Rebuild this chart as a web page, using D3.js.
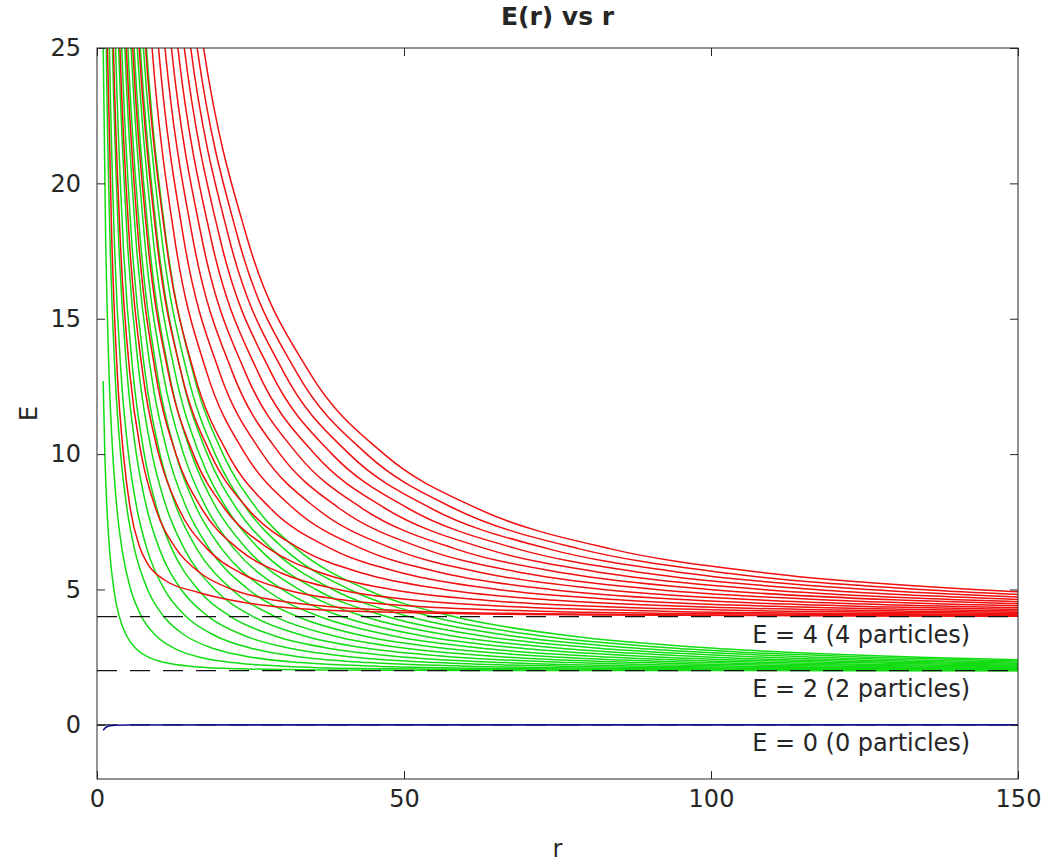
<!DOCTYPE html>
<html>
<head>
<meta charset="utf-8">
<script src="https://cdn.jsdelivr.net/npm/d3@7"></script>
<style>
  body { margin: 0; background: #fff; }
  text { font-family: "DejaVu Sans", "Liberation Sans", Arial, sans-serif; fill: #262626; }
</style>
</head>
<body>
<svg id="chart" width="1050" height="862"></svg>
<script>
// E(r) vs r — energy levels of 0, 2 and 4 particle states against box size r.
// Points: each curve is a list of [r, E] pairs.

const X_TICKS = [0, 50, 100, 150];
const Y_TICKS = [0, 5, 10, 15, 20, 25];

// 2-particle states (green), lowest first
const GREEN_CURVES = [
  [[1,12.7],[1.28,10],[1.62,8],[2.03,6.5],[2.74,5],[3.63,4],[4.79,3.3],[6.41,2.8],[8.38,2.5],[11.06,2.3],[15.93,2.15],[23.54,2.07],[36.14,2.03],[62.8,2.01],[150,2.002]],
  [[1.01,25],[1.41,18],[1.96,13],[2.57,10],[3.24,8],[4.06,6.5],[5.48,5],[7.26,4],[9.57,3.3],[12.83,2.8],[16.76,2.5],[22.12,2.3],[31.86,2.15],[47.08,2.07],[72.28,2.03],[125.5,2.01],[150,2.007]],
  [[1.26,30],[1.51,25],[2.11,18],[2.93,13],[3.85,10],[4.87,8],[6.10,6.5],[8.23,5],[10.88,4],[14.36,3.3],[19.24,2.8],[25.13,2.5],[33.18,2.3],[47.79,2.15],[70.62,2.07],[108.42,2.03],[150,2.016]],
  [[1.68,30],[2.02,25],[2.81,18],[3.91,13],[5.13,10],[6.49,8],[8.13,6.5],[10.97,5],[14.51,4],[19.15,3.3],[25.65,2.8],[33.51,2.5],[44.24,2.3],[63.72,2.15],[94.16,2.07],[144.56,2.03],[150,2.028]],
  [[2.10,30],[2.52,25],[3.51,18],[4.89,13],[6.41,10],[8.11,8],[10.16,6.5],[13.71,5],[18.14,4],[23.94,3.3],[32.07,2.8],[41.89,2.5],[55.30,2.3],[79.65,2.15],[117.70,2.07],[150,2.043]],
  [[2.52,30],[3.03,25],[4.22,18],[5.87,13],[7.70,10],[9.73,8],[12.19,6.5],[16.45,5],[21.77,4],[28.72,3.3],[38.48,2.8],[50.27,2.5],[66.36,2.3],[95.58,2.15],[141.24,2.07],[150,2.062]],
  [[2.94,30],[3.53,25],[4.92,18],[6.85,13],[8.98,10],[11.35,8],[14.22,6.5],[19.19,5],[25.40,4],[33.51,3.3],[44.89,2.8],[58.65,2.5],[77.42,2.3],[111.51,2.15],[150,2.084]],
  [[3.36,30],[4.03,25],[5.62,18],[7.83,13],[10.26,10],[12.98,8],[16.26,6.5],[21.94,5],[29.02,4],[38.30,3.3],[51.30,2.8],[67.02,2.5],[88.48,2.3],[127.44,2.15],[150,2.109]],
  [[3.78,30],[4.54,25],[6.32,18],[8.80,13],[11.54,10],[14.60,8],[18.29,6.5],[24.68,5],[32.65,4],[43.08,3.3],[57.72,2.8],[75.40,2.5],[99.54,2.3],[143.37,2.15],[150,2.137]],
  [[4.20,30],[5.04,25],[7.03,18],[9.78,13],[12.83,10],[16.22,8],[20.32,6.5],[27.42,5],[36.28,4],[47.87,3.3],[64.13,2.8],[83.78,2.5],[110.6,2.3],[150,2.168]],
  [[4.62,30],[5.55,25],[7.73,18],[10.76,13],[14.11,10],[17.84,8],[22.35,6.5],[30.16,5],[39.91,4],[52.66,3.3],[70.54,2.8],[92.16,2.5],[121.66,2.3],[150,2.202]],
  [[5.04,30],[6.05,25],[8.43,18],[11.74,13],[15.39,10],[19.46,8],[24.38,6.5],[32.90,5],[43.54,4],[57.44,3.3],[76.96,2.8],[100.54,2.5],[132.72,2.3],[150,2.239]],
  [[5.46,30],[6.56,25],[9.13,18],[12.72,13],[16.67,10],[21.09,8],[26.42,6.5],[35.65,5],[47.16,4],[62.23,3.3],[83.37,2.8],[108.91,2.5],[143.78,2.3],[150,2.277]],
  [[5.88,30],[7.06,25],[9.84,18],[13.69,13],[17.96,10],[22.71,8],[28.45,6.5],[38.39,5],[50.79,4],[67.02,3.3],[89.78,2.8],[117.29,2.5],[150,2.319]],
  [[6.30,30],[7.56,25],[10.54,18],[14.67,13],[19.24,10],[24.33,8],[30.48,6.5],[41.13,5],[54.42,4],[71.81,3.3],[96.20,2.8],[125.67,2.5],[150,2.362]],
  [[6.72,30],[8.07,25],[11.24,18],[15.65,13],[20.52,10],[25.95,8],[32.51,6.5],[43.87,5],[58.05,4],[76.59,3.3],[102.61,2.8],[134.05,2.5],[150,2.408]]
];

// 4-particle states (red), lowest first
const RED_CURVES = [
  [[1.35,30],[1.7,25],[2.4,18],[3.3,13],[4.3,10],[5.4,8],[6.9,6.6],[8.1,6.0],[11,5.35],[16.4,4.9],[24,4.52],[32.6,4.3],[50,4.15],[80,4.06],[150,4.012]],
  [[2.22,30],[2.68,25],[3.77,18],[5.34,13],[7.21,10],[9.54,8],[12.90,6.5],[16.87,5.6],[22.03,5],[29.09,4.6],[38.66,4.35],[51.60,4.2],[73.43,4.1],[104.17,4.05],[150,4.024]],
  [[3.09,30],[3.73,25],[5.24,18],[7.44,13],[10.04,10],[13.28,8],[17.95,6.5],[23.47,5.6],[30.66,5],[40.48,4.6],[53.80,4.35],[71.81,4.2],[102.19,4.1],[145.0,4.05],[150,4.047]],
  [[3.96,30],[4.78,25],[6.72,18],[9.53,13],[12.86,10],[17.02,8],[23.00,6.5],[30.08,5.6],[39.29,5],[51.87,4.6],[68.94,4.35],[92.02,4.2],[130.94,4.1],[150,4.076]],
  [[4.84,30],[5.82,25],[8.19,18],[11.62,13],[15.68,10],[20.75,8],[28.06,6.5],[36.68,5.6],[47.92,5],[63.26,4.6],[84.08,4.35],[112.23,4.2],[150,4.113]],
  [[5.71,30],[6.87,25],[9.67,18],[13.72,13],[18.51,10],[24.49,8],[33.11,6.5],[43.29,5.6],[56.55,5],[74.66,4.6],[99.23,4.35],[132.44,4.2],[150,4.157]],
  [[6.58,30],[7.92,25],[11.14,18],[15.81,13],[21.33,10],[28.23,8],[38.16,6.5],[49.89,5.6],[65.18,5],[86.05,4.6],[114.37,4.35],[150,4.207]],
  [[7.45,30],[8.97,25],[12.62,18],[17.90,13],[24.16,10],[31.96,8],[43.21,6.5],[56.50,5.6],[73.81,5],[97.44,4.6],[129.51,4.35],[150,4.264]],
  [[8.32,30],[10.02,25],[14.09,18],[19.99,13],[26.98,10],[35.70,8],[48.27,6.5],[63.10,5.6],[82.44,5],[108.83,4.6],[144.65,4.35],[150,4.326]],
  [[9.19,30],[11.07,25],[15.57,18],[22.09,13],[29.81,10],[39.44,8],[53.32,6.5],[69.71,5.6],[91.07,5],[120.22,4.6],[150,4.395]],
  [[10.06,30],[12.12,25],[17.04,18],[24.18,13],[32.63,10],[43.17,8],[58.37,6.5],[76.31,5.6],[99.70,5],[131.61,4.6],[150,4.469]],
  [[10.93,30],[13.17,25],[18.52,18],[26.27,13],[35.45,10],[46.91,8],[63.42,6.5],[82.92,5.6],[108.33,5],[143.0,4.6],[150,4.549]],
  [[11.80,30],[14.22,25],[19.99,18],[28.37,13],[38.28,10],[50.65,8],[68.47,6.5],[89.53,5.6],[116.96,5],[150,4.634]],
  [[12.67,30],[15.26,25],[21.47,18],[30.46,13],[41.10,10],[54.38,8],[73.53,6.5],[96.13,5.6],[125.59,5],[150,4.723]],
  [[13.54,30],[16.31,25],[22.94,18],[32.55,13],[43.93,10],[58.12,8],[78.58,6.5],[102.74,5.6],[134.22,5],[150,4.817]],
  [[14.41,30],[17.36,25],[24.42,18],[34.65,13],[46.75,10],[61.86,8],[83.63,6.5],[109.34,5.6],[142.85,5],[150,4.915]]
];

// vacuum (blue)
const BLUE_CURVE = [[1,-0.2],[1.3,-0.12],[1.7,-0.06],[2.2,-0.03],[3,-0.012],[5,-0.003],[150,0]];

// dashed reference levels and their labels
const REF_LEVELS = [0, 2, 4];
const REF_LABELS = ["E = 0 (0 particles)", "E = 2 (2 particles)", "E = 4 (4 particles)"];

const M = { left: 97, right: 1018, top: 48, bottom: 779 };
const FONT = 24;

const svg = d3.select("#chart");
const x = d3.scaleLinear().domain([0, 150]).range([M.left, M.right]);
const y = d3.scaleLinear().domain([-2, 25]).range([M.bottom, M.top]);

svg.append("defs").append("clipPath").attr("id", "plot-clip")
  .append("rect")
  .attr("x", M.left).attr("y", M.top)
  .attr("width", M.right - M.left).attr("height", M.bottom - M.top);

const plot = svg.append("g").attr("clip-path", "url(#plot-clip)");

const line = d3.line()
  .x(d => x(d[0]))
  .y(d => y(d[1]))
  .curve(d3.curveMonotoneX);

plot.selectAll(".green")
  .data(GREEN_CURVES)
  .join("path")
  .attr("class", "green")
  .attr("d", line)
  .attr("fill", "none")
  .attr("stroke", "#14dc14")
  .attr("stroke-width", 1.5);

plot.selectAll(".red")
  .data(RED_CURVES)
  .join("path")
  .attr("class", "red")
  .attr("d", line)
  .attr("fill", "none")
  .attr("stroke", "#f01010")
  .attr("stroke-width", 1.5);

// reference dashed lines on top of the curves
plot.selectAll(".ref")
  .data(REF_LEVELS)
  .join("line")
  .attr("class", "ref")
  .attr("x1", x(0)).attr("x2", x(150))
  .attr("y1", d => y(d)).attr("y2", d => y(d))
  .attr("stroke", "#111")
  .attr("stroke-width", 1.2)
  .attr("stroke-dasharray", "20,13");

// vacuum line drawn last, it hides the E = 0 dashes
plot.append("path")
  .datum(BLUE_CURVE)
  .attr("d", line)
  .attr("fill", "none")
  .attr("stroke", "#10108c")
  .attr("stroke-width", 1.6);

svg.selectAll(".ref-label")
  .data(REF_LEVELS)
  .join("text")
  .attr("class", "ref-label")
  .attr("x", x(106.7))
  .attr("y", d => y(d - 0.7))
  .attr("dominant-baseline", "middle")
  .style("font-size", FONT + "px")
  .text((d, i) => REF_LABELS[i]);

// axes — ticks point inward on all four sides
function styleAxis(g) {
  g.select(".domain").remove();
  g.selectAll(".tick line").attr("stroke", "#262626");
  g.selectAll(".tick text")
    .style("font-size", FONT + "px")
    .style("font-family", "\"DejaVu Sans\", \"Liberation Sans\", Arial, sans-serif")
    .attr("fill", "#262626");
}

svg.append("g")
  .attr("transform", "translate(0," + M.bottom + ")")
  .call(d3.axisBottom(x).tickValues(X_TICKS).tickSizeInner(-8).tickSizeOuter(0).tickPadding(11))
  .call(styleAxis);

svg.append("g")
  .attr("transform", "translate(0," + M.top + ")")
  .call(d3.axisTop(x).tickValues(X_TICKS).tickSizeInner(-8).tickSizeOuter(0).tickFormat(""))
  .call(styleAxis);

svg.append("g")
  .attr("transform", "translate(" + M.left + ",0)")
  .call(d3.axisLeft(y).tickValues(Y_TICKS).tickSizeInner(-8).tickSizeOuter(0).tickPadding(16))
  .call(styleAxis);

svg.append("g")
  .attr("transform", "translate(" + M.right + ",0)")
  .call(d3.axisRight(y).tickValues(Y_TICKS).tickSizeInner(-8).tickSizeOuter(0).tickFormat(""))
  .call(styleAxis);

svg.append("rect")
  .attr("x", M.left).attr("y", M.top)
  .attr("width", M.right - M.left).attr("height", M.bottom - M.top)
  .attr("fill", "none")
  .attr("stroke", "#262626")
  .attr("stroke-width", 1);

// titles
svg.append("text")
  .attr("x", (M.left + M.right) / 2).attr("y", 25)
  .attr("text-anchor", "middle")
  .style("font-size", "25px").style("font-weight", "bold")
  .attr("fill", "#000")
  .text("E(r) vs r");

svg.append("text")
  .attr("x", (M.left + M.right) / 2).attr("y", 857)
  .attr("text-anchor", "middle")
  .style("font-size", FONT + "px")
  .text("r");

svg.append("text")
  .attr("transform", "translate(37," + ((M.top + M.bottom) / 2) + ") rotate(-90)")
  .attr("text-anchor", "middle")
  .style("font-size", FONT + "px")
  .text("E");
</script>
</body>
</html>
